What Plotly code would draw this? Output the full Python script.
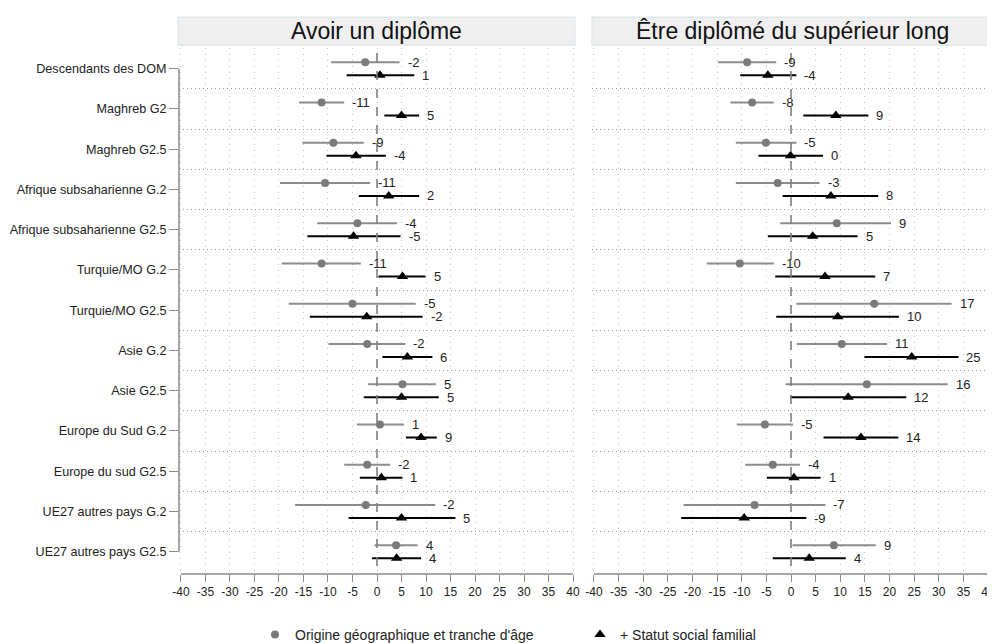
import plotly.graph_objects as go

categories = ["Descendants des DOM", "Maghreb G2", "Maghreb G2.5", "Afrique subsaharienne G.2",
              "Afrique subsaharienne G2.5", "Turquie/MO G.2", "Turquie/MO G2.5", "Asie G.2",
              "Asie G2.5", "Europe du Sud G.2", "Europe du sud G2.5", "UE27 autres pays G.2",
              "UE27 autres pays G2.5"]

# Panel 1 : Avoir un diplôme
p1_orig = [-2.4, -11.3, -8.9, -10.6, -4.0, -11.3, -5.0, -2.0, 5.2, 0.6, -2.0, -2.3, 3.9]
p1_orig_lo = [-9.4, -15.9, -15.2, -19.8, -12.2, -19.4, -18.0, -9.9, -1.8, -4.1, -6.7, -16.7, -0.5]
p1_orig_hi = [4.6, -6.7, -2.7, -1.4, 4.1, -3.3, 7.9, 5.8, 12.0, 5.5, 2.7, 11.9, 8.3]
p1_orig_lab = ["-2", "-11", "-9", "-11", "-4", "-11", "-5", "-2", "5", "1", "-2", "-2", "4"]
p1_soc = [0.6, 5.0, -4.3, 2.4, -4.8, 5.2, -2.1, 6.2, 5.0, 9.0, 0.9, 5.0, 4.0]
p1_soc_lo = [-6.2, 1.5, -10.3, -3.7, -14.2, 0.3, -13.7, 1.1, -2.7, 5.9, -3.5, -5.8, -1.0]
p1_soc_hi = [7.6, 8.6, 1.8, 8.6, 4.8, 9.9, 9.3, 11.3, 12.6, 12.2, 5.2, 16.0, 9.0]
p1_soc_lab = ["1", "5", "-4", "2", "-5", "5", "-2", "6", "5", "9", "1", "5", "4"]

# Panel 2 : Être diplômé du supérieur long
p2_orig = [-8.9, -7.9, -5.1, -2.7, 9.3, -10.4, 16.9, 10.3, 15.4, -5.3, -3.7, -7.4, 8.7]
p2_orig_lo = [-14.8, -12.3, -11.2, -11.2, -2.2, -17.1, 1.1, 1.2, -1.1, -11.0, -9.3, -21.8, 0.3]
p2_orig_hi = [-3.0, -3.5, 1.1, 5.8, 20.3, -3.5, 32.6, 19.5, 31.8, 0.4, 1.8, 7.0, 17.2]
p2_orig_lab = ["-9", "-8", "-5", "-3", "9", "-10", "17", "11", "16", "-5", "-4", "-7", "9"]
p2_soc = [-4.7, 9.1, -0.1, 8.1, 4.4, 6.9, 9.5, 24.5, 11.6, 14.2, 0.6, -9.5, 3.7]
p2_soc_lo = [-10.3, 2.5, -6.6, -1.7, -4.7, -3.2, -3.0, 14.9, -0.2, 6.6, -4.9, -22.3, -3.7]
p2_soc_hi = [1.1, 15.7, 6.5, 17.7, 13.5, 17.1, 21.9, 34.0, 23.4, 21.8, 6.0, 3.1, 11.1]
p2_soc_lab = ["-4", "9", "0", "8", "5", "7", "10", "25", "12", "14", "1", "-9", "4"]

panel_titles = ["Avoir un diplôme", "Être diplômé du supérieur long"]
legend_names = ["Origine géographique et tranche d'âge", "+ Statut social familial"]
x_ticks = list(range(-40, 45, 5))

# page body has an 8px margin; the photographed page appears slightly squeezed vertically
PAGE_OFF = 8
SY = 643 / 651
W, H = 987, 643
FONT = "Liberation Sans, Arial, sans-serif"
GREY = "#7a7a7a"
GREY_BAR = "#8c8c8c"
BLACK = "#000000"
OFF = 0.162

fig = go.Figure()

panels = [
    ("x", "y", p1_orig, p1_orig_lo, p1_orig_hi, p1_orig_lab, p1_soc, p1_soc_lo, p1_soc_hi, p1_soc_lab),
    ("x2", "y2", p2_orig, p2_orig_lo, p2_orig_hi, p2_orig_lab, p2_soc, p2_soc_lo, p2_soc_hi, p2_soc_lab),
]
n = len(categories)
annotations = []
for xa, ya, o, olo, ohi, olab, s, slo, shi, slab in panels:
    yo = [i - OFF for i in range(n)]
    ys = [i + OFF for i in range(n)]
    fig.add_trace(go.Scatter(
        x=o, y=yo, xaxis=xa, yaxis=ya, mode="markers", showlegend=False,
        marker=dict(symbol="circle", size=8, color=GREY),
        error_x=dict(type="data", symmetric=False,
                     array=[h - v for h, v in zip(ohi, o)],
                     arrayminus=[v - l for v, l in zip(o, olo)],
                     width=0, thickness=2, color=GREY_BAR)))
    fig.add_trace(go.Scatter(
        x=s, y=ys, xaxis=xa, yaxis=ya, mode="markers", showlegend=False,
        marker=dict(symbol="triangle-up", size=10, color=BLACK),
        error_x=dict(type="data", symmetric=False,
                     array=[h - v for h, v in zip(shi, s)],
                     arrayminus=[v - l for v, l in zip(s, slo)],
                     width=0, thickness=2, color=BLACK)))
    for hi_list, lab_list, yy in ((ohi, olab, yo), (shi, slab, ys)):
        for h, lab, y in zip(hi_list, lab_list, yy):
            annotations.append(dict(x=h, y=y, xref=xa, yref=ya, text=lab, showarrow=False,
                                    xanchor="left", yanchor="middle", xshift=6,
                                    font=dict(family=FONT, size=13, color="#222")))

# legend dummies
fig.add_trace(go.Scatter(x=[None], y=[None], mode="markers", name=legend_names[0],
                         marker=dict(symbol="circle", size=8, color=GREY)))
fig.add_trace(go.Scatter(x=[None], y=[None], mode="markers", name=legend_names[1],
                         marker=dict(symbol="triangle-up", size=10, color=BLACK)))

def px_x(p):
    return (p - PAGE_OFF) / W

def px_y(p):
    return 1 - (p / SY - PAGE_OFF) / H

dom1 = [px_x(179), px_x(575)]
dom2 = [px_x(592), px_x(990)]
ydom = [px_y(573), px_y(48)]
yrange = [12.55, -0.51]
xrange_ = [-40.4, 40.4]

xcommon = dict(range=xrange_, tickmode="array", tickvals=x_ticks, ticktext=[str(v) for v in x_ticks],
               showgrid=True, gridcolor="#c4c4c4", griddash="1px,5px", gridwidth=1,
               zeroline=False, showline=False, ticks="outside", ticklen=7, tickcolor="#888",
               tickwidth=1.3, tickfont=dict(family=FONT, size=12, color="#222"), fixedrange=True,
               automargin=False, ticklabeloverflow="allow")
ycommon = dict(range=yrange, tickmode="array", tickvals=list(range(n)), showgrid=False,
               zeroline=False, showline=False,
               minor=dict(tickmode="array", tickvals=[i + 0.5 for i in range(n - 1)],
                          showgrid=True, gridcolor="#9a9a9a",
                          griddash="1px,3px", gridwidth=1, ticks=""),
               domain=ydom, fixedrange=True, automargin=False)

fig.update_layout(
    width=W, height=H,
    margin=dict(l=0, r=0, t=0, b=0, pad=0),
    paper_bgcolor="white", plot_bgcolor="white",
    font=dict(family=FONT, color="#222"),
    xaxis=dict(domain=dom1, anchor="y", **xcommon),
    xaxis2=dict(domain=dom2, anchor="y2", **xcommon),
    yaxis=dict(anchor="x", ticktext=categories, ticks="outside", ticklen=9, tickcolor="#888",
               tickwidth=1.3, tickfont=dict(family=FONT, size=12.6, color="#222"), **ycommon),
    yaxis2=dict(anchor="x2", showticklabels=False, ticks="", **ycommon),
    showlegend=True,
    legend=dict(orientation="h", x=px_x(255), y=px_y(634), xanchor="left", yanchor="middle",
                font=dict(family=FONT, size=14, color="#222"), entrywidth=280,
                entrywidthmode="pixels", bgcolor="rgba(0,0,0,0)", tracegroupgap=0),
)

shapes = []
for xa, ya, title, dom in (("x", "y", panel_titles[0], [px_x(178), px_x(575)]),
                           ("x2", "y2", panel_titles[1], [px_x(592), px_x(993)])):
    # header strip
    shapes.append(dict(type="rect", xref="paper", yref="paper", x0=dom[0], x1=dom[1],
                       y0=px_y(45), y1=px_y(17), fillcolor="#efefef",
                       line=dict(color="#dce6ec", width=1.2), layer="below"))
    annotations.append(dict(xref="paper", yref="paper", x=(dom[0] + dom[1]) / 2, y=px_y(31),
                            text=title, showarrow=False, xanchor="center", yanchor="middle",
                            font=dict(family=FONT, size=23, color="#111")))
    # zero dashed line
    shapes.append(dict(type="line", xref=xa, yref=ya + " domain", x0=0, x1=0, y0=0.015, y1=1,
                       line=dict(color="#808080", width=1.6, dash="dash")))
    # x axis line (-40 to 40)
    shapes.append(dict(type="line", xref=xa, yref=ya + " domain", x0=-40, x1=40, y0=0, y1=0,
                       line=dict(color="#888", width=1.5)))

# y axis line on left panel
shapes.append(dict(type="line", xref="x domain", yref="y", x0=0, x1=0, y0=0, y1=n - 1,
                   line=dict(color="#888", width=1.5)))

fig.update_layout(shapes=shapes, annotations=annotations)
fig.write_html("out.html", config={"displayModeBar": False})
